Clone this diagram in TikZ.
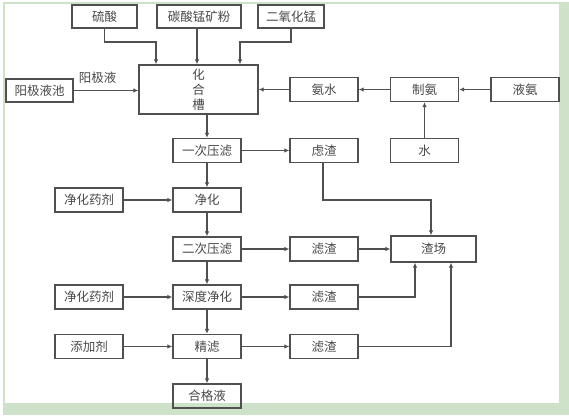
\documentclass[tikz,border=0pt]{standalone}
\usepackage{fontspec}
\newfontfamily\cjk{Noto Sans CJK SC}
\usepackage{tikz}
\usetikzlibrary{arrows.meta,positioning}
\definecolor{framegreen}{RGB}{206,226,201}
\definecolor{inkgray}{RGB}{80,80,80}

\begin{document}
\begin{tikzpicture}[
  x=1pt, y=-1pt,
  block/.style={draw=inkgray, line width=1.3pt, minimum width=68pt,
    minimum height=24pt, inner sep=0pt, text=inkgray!90!black,
    font=\cjk\fontsize{12.5}{15}\selectfont},
  arr/.style={-{Latex[length=5pt,width=4.5pt]}, line width=1.1pt, draw=inkgray},
  >=Latex
]
  % frame
  \useasboundingbox (0,0) rectangle (569,415);
  \fill[framegreen] (3,2) rectangle (569,4);
  \fill[framegreen] (3,2) rectangle (5,415);
  \fill[framegreen] (559,2) rectangle (569,415);
  \fill[framegreen] (3,403) rectangle (569,415);

  % raw materials (top)
  \node[block, minimum width=65pt, minimum height=23pt] (liusuan) at (104.5,16.5) {硫酸};
  \node[block, minimum width=84pt, minimum height=23pt] (tansuan) at (199,16.5) {碳酸锰矿粉};
  \node[block, minimum width=66pt, minimum height=23pt] (eryang) at (291,16.5) {二氧化锰};

  % reaction tank
  \node[block, minimum width=119pt, minimum height=49pt, align=center]
    (huahe) at (198.5,89.5) {化\\合\\槽};
  \node[block, minimum width=67pt, minimum height=23pt] (chi) at (39.5,90.5) {阳极液池};
  \node[font=\cjk\fontsize{12.5}{15}\selectfont, text=inkgray!90!black,
    inner sep=0pt] (yangji) at (97.5,78) {阳极液};

  % ammonia path (right)
  \node[block] (anshui) at (324,89.5) {氨水};
  \node[block] (zhian) at (424.5,89.5) {制氨};
  \node[block] (yean) at (525,89.5) {液氨};
  \node[block] (shui) at (424.5,150.5) {水};

  % main column
  \node[block] (yici) at (207,150.5) {一次压滤};
  \node[block] (jinghua) at (207,200) {净化};
  \node[block] (erci) at (207,249) {二次压滤};
  \node[block] (shendu) at (207,297) {深度净化};
  \node[block] (jinglv) at (207,346.5) {精滤};
  \node[block] (hege) at (207,396) {合格液};

  % additives (left)
  \node[block] (yaoji1) at (89,200) {净化药剂};
  \node[block] (yaoji2) at (89,297) {净化药剂};
  \node[block] (tianjia) at (89,346.5) {添加剂};

  % residues
  \node[block] (zha0) at (324,150.5) {虑渣};
  \node[block] (zha1) at (324,249) {滤渣};
  \node[block] (zha2) at (324,297) {滤渣};
  \node[block] (zha3) at (324,346.5) {滤渣};
  \node[block, minimum width=85pt, minimum height=26pt] (zhachang) at (433.5,249) {渣场};

  % feeds into the tank
  \coordinate (bend) at (0,42);
  \draw[arr] (liusuan.south) -- (liusuan.south |- bend) -- (156,42)
    -- (156,0 |- huahe.north);
  \draw[arr] (tansuan.south -| 197,0) -- (197,0 |- huahe.north);
  \draw[arr] (eryang.south) -- (eryang.south |- bend) -- (240,42)
    -- (240,0 |- huahe.north);
  \draw[arr] (chi) -- (chi -| huahe.west);
  \draw[arr] (anshui) -- (anshui -| huahe.east);
  \draw[arr] (zhian) -- (anshui);
  \draw[arr] (yean) -- (zhian);
  \draw[arr] (shui) -- (zhian);

  % main flow
  \draw[arr] (huahe.south -| yici) -- (yici);
  \draw[arr] (yici) -- (jinghua);
  \draw[arr] (jinghua) -- (erci);
  \draw[arr] (erci) -- (shendu);
  \draw[arr] (shendu) -- (jinglv);
  \draw[arr] (jinglv) -- (hege);
  \draw[arr] (yaoji1) -- (jinghua);
  \draw[arr] (yaoji2) -- (shendu);
  \draw[arr] (tianjia) -- (jinglv);

  % residues to the dump
  \draw[arr] (yici) -- (zha0);
  \draw[arr] (erci) -- (zha1);
  \draw[arr] (shendu) -- (zha2);
  \draw[arr] (jinglv) -- (zha3);
  \draw[arr] (zha0.south -| 323,0) |- (431,200) -- (431,0 |- zhachang.north);
  \draw[arr] (zha1) -- (zhachang);
  \draw[arr] (zha2) -| (415,0 |- zhachang.south);
  \draw[arr] (zha3) -| (451,0 |- zhachang.south);
\end{tikzpicture}
\end{document}
